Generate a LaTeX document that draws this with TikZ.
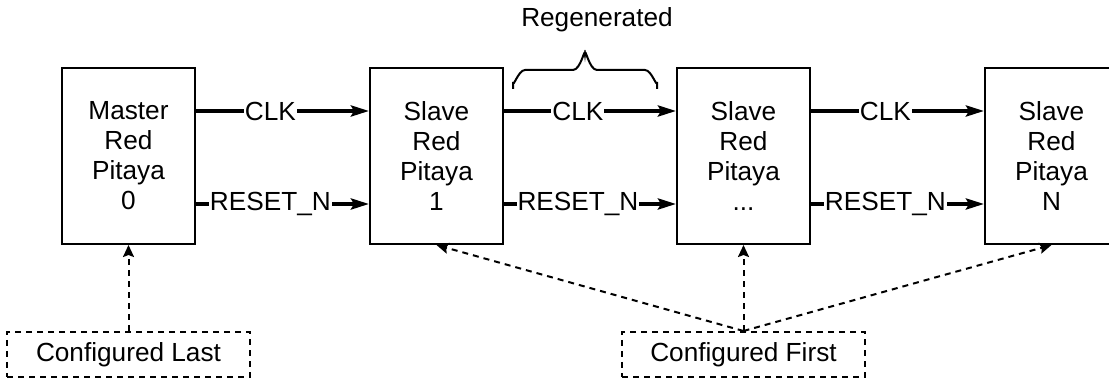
\documentclass[tikz,border=0pt]{standalone}
\usepackage{fontspec}
\setmainfont{Liberation Sans}
\usetikzlibrary{arrows.meta}
\usetikzlibrary{positioning}
\tikzstyle{board}=[rectangle,draw=black,line width=1pt,minimum width=66.5pt,minimum height=88pt,align=center,inner sep=0pt]
\tikzstyle{notebox}=[rectangle,draw=black,line width=1pt,dash pattern=on 3pt off 2.5pt,minimum width=121.5pt,minimum height=22.5pt,inner sep=0pt]
\tikzstyle{sigedge} = [draw,line width=1.8pt,-{Stealth[length=9pt,width=5.5pt,inset=1.5pt]}]
\tikzstyle{cfgedge} = [draw,line width=1pt,dash pattern=on 3pt off 2.5pt,-{Stealth[length=6pt,width=5.5pt,inset=1pt]}]
\tikzstyle{siglabel} = [fill=white,inner sep=0.5pt,pos=0.43]

\begin{document}
\begin{tikzpicture}[x=0.5pt,y=-0.5pt,font=\fontsize{13.1pt}{15pt}\selectfont]

   \useasboundingbox (0,0) rectangle (1109,378);

%Boards
    \foreach \pos/\name/\label in {{(128.5,156)/rp0/{Master\\Red\\Pitaya\\0}}, {(436.5,156)/rp1/{Slave\\Red\\Pitaya\\1}}, {(743.5,156)/rp2/{Slave\\Red\\Pitaya\\...}}, {(1051.5,156)/rpN/{Slave\\Red\\Pitaya\\N}}}
        \node[board] (\name) at \pos {\label};

%Configuration order
   \node[notebox] (cfglast) at (128.5,354.5) {Configured Last};
   \node[notebox] (cfgfirst) at (743.5,354.5) {Configured First};

 % Edges
 	%signals
  	\foreach \source/ \dest in {rp0/rp1, rp1/rp2, rp2/rpN}
  	{
		\path[sigedge] ([yshift=22.5pt]\source.east) -- node[siglabel] {CLK} ([yshift=22.5pt]\dest.west);
		\path[sigedge] ([yshift=-24pt]\source.east) -- node[siglabel] {RESET\_N} ([yshift=-24pt]\dest.west);
  	}

 	%configuration
	\path[cfgedge] (cfglast.north) -- (rp0.south);
  	\foreach \dest in {rp1, rp2, rpN}
		\path[cfgedge] (cfgfirst.north) -- (\dest.south);

   %Label
   \draw[line width=1pt] (513,89) -- (513,82) to[out=-90,in=180] (525,70) -- (573,70) to[out=0,in=90] (585,54)
        to[out=90,in=180] (597,70) -- (645,70) to[out=0,in=-90] (657,82) -- (657,89);
   \node (regen) at (597,20) {Regenerated};

\end{tikzpicture}
\end{document}
